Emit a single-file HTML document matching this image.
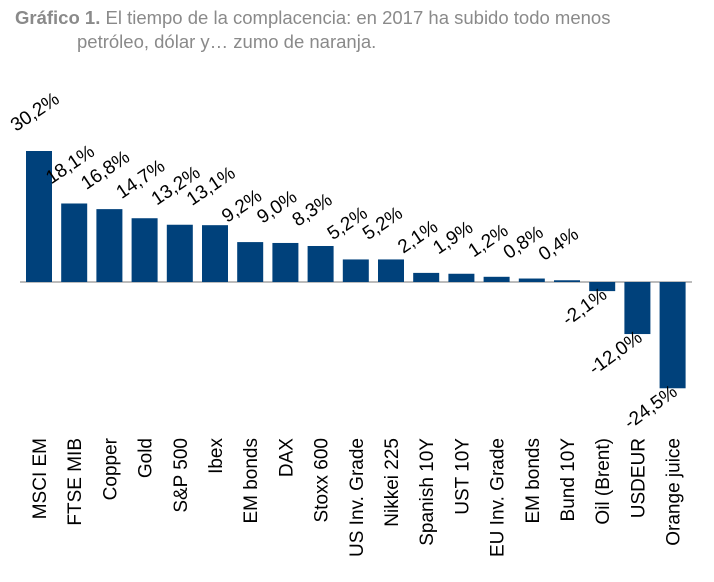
<!DOCTYPE html>
<html><head><meta charset="utf-8"><style>
body{margin:0;background:#fff;width:714px;height:582px;overflow:hidden}
svg{display:block}
</style></head><body>
<svg id="c" width="714" height="582" font-family="Liberation Sans, sans-serif">
<text x="15" y="24" font-size="18.5" fill="#8a8a8a"><tspan font-weight="bold">Gráfico 1.</tspan> El tiempo de la complacencia: en 2017 ha subido todo menos</text>
<text x="77" y="48" font-size="18.5" fill="#8a8a8a">petróleo, dólar y… zumo de naranja.</text>
<g id="bars"></g>
</svg>
<script>
const categories=["MSCI EM","FTSE MIB","Copper","Gold","S&P 500","Ibex","EM bonds","DAX","Stoxx 600","US Inv. Grade","Nikkei 225","Spanish 10Y","UST 10Y","EU Inv. Grade","EM bonds","Bund 10Y","Oil (Brent)","USDEUR","Orange juice"];
const values=[30.2,18.1,16.8,14.7,13.2,13.1,9.2,9.0,8.3,5.2,5.2,2.1,1.9,1.2,0.8,0.4,-2.1,-12.0,-24.5];
const valueLabels=["30,2%","18,1%","16,8%","14,7%","13,2%","13,1%","9,2%","9,0%","8,3%","5,2%","5,2%","2,1%","1,9%","1,2%","0,8%","0,4%","-2,1%","-12,0%","-24,5%"];
const NS="http://www.w3.org/2000/svg";
const g=document.getElementById('bars');
const x0=26,pitch=35.2,bw=26,base=282,scale=131/30.2;
const xs=i=>x0+i*pitch;
const ys=v=>base-v*scale;
function mk(t,a){const e=document.createElementNS(NS,t);for(const k in a)e.setAttribute(k,a[k]);g.appendChild(e);return e;}
const ax=mk('line',{x1:20,x2:692,y1:base,y2:base,stroke:'#a6a6a6','stroke-width':1.5});


values.forEach((v,i)=>{
  const x=xs(i),y=Math.min(ys(v),base),h=Math.abs(ys(v)-base);
  const r=mk('rect',{x:x,y:y,width:bw,height:h,fill:'#00417b'});
  
  
  let t;
  if(v>=0){
    const lx=x-10,ly=ys(v)-19;
    t=mk('text',{x:lx,y:ly,'font-size':19,fill:'#000',transform:`rotate(-34 ${lx} ${ly})`});
  }else{
    const lx=x+bw/2+6,ly=ys(v)+6;
    t=mk('text',{x:lx,y:ly,'font-size':19,fill:'#000','text-anchor':'end',transform:`rotate(-36 ${lx} ${ly})`});
  }
  t.textContent=valueLabels[i];
  
  
  const cx=x+bw/2+7,cy=438;
  const c=mk('text',{x:cx,y:cy,'font-size':19,fill:'#000','text-anchor':'end',transform:`rotate(-90 ${cx} ${cy})`});
  c.textContent=categories[i];
  
  
});
</script>
</body></html>
